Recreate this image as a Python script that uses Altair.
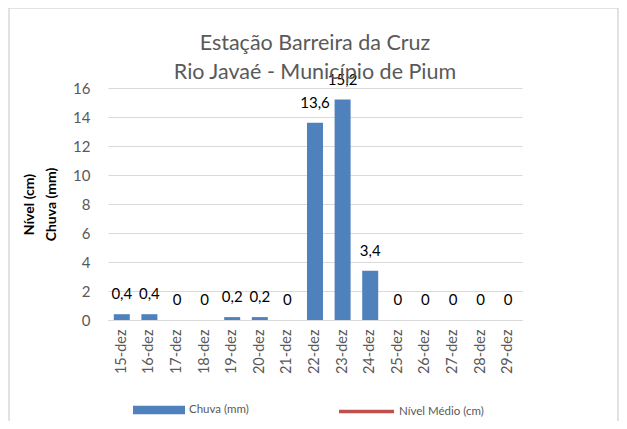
import altair as alt
import pandas as pd

datas = ["15-dez", "16-dez", "17-dez", "18-dez", "19-dez", "20-dez", "21-dez",
         "22-dez", "23-dez", "24-dez", "25-dez", "26-dez", "27-dez", "28-dez", "29-dez"]
chuva = [0.4, 0.4, 0, 0, 0.2, 0.2, 0, 13.6, 15.2, 3.4, 0, 0, 0, 0, 0]
nivel = [None] * len(datas)
y_ticks = [0, 2, 4, 6, 8, 10, 12, 14, 16]

def fmt(v):
    s = ("%g" % v)
    return s.replace(".", ",")

df = pd.DataFrame({
    "data": datas,
    "chuva": chuva,
    "rotulo": [fmt(v) for v in chuva],
    "serie": ["Chuva (mm)"] * len(datas),
})
df_n = pd.DataFrame({
    "data": datas,
    "nivel": nivel,
    "serie": ["Nível Médio (cm)"] * len(datas),
})

FONT = "Lato"
GRAY = "#595959"

x_axis = alt.Axis(labelAngle=270, labelAlign="right", labelBaseline="middle",
                  labelPadding=9, ticks=False, domainColor="#d9d9d9",
                  labelFontSize=14.5, labelColor=GRAY, labelFont=FONT)
x_scale = alt.Scale(paddingInner=0.42, paddingOuter=0.21)
y_axis = alt.Axis(values=y_ticks, tickCount=9, grid=True, gridColor="#d9d9d9",
                  domain=False, ticks=False, labelPadding=18, labelFontSize=15,
                  labelColor=GRAY, labelFont=FONT, labelOverlap=False,
                  titleFont=FONT, titleFontSize=14, titleFontWeight="bold",
                  titleColor="black", titlePadding=14, titleLineHeight=22)
y_scale = alt.Scale(domain=[0, 16], nice=False)
y_title = ["Nível (cm)", "Chuva (mm)"]

def xe():
    return alt.X("data:N", sort=datas, title=None, scale=x_scale, axis=x_axis)

bars = alt.Chart(df).mark_bar().encode(
    x=xe(),
    y=alt.Y("chuva:Q", title=y_title, scale=y_scale, axis=y_axis),
    color=alt.Color("serie:N", title=None,
                    scale=alt.Scale(domain=["Chuva (mm)"], range=["#4f81bd"]),
                    legend=alt.Legend(orient="none", legendX=25, legendY=296,
                                      symbolType="M-1,-0.16H1V0.16H-1Z",
                                      symbolSize=2704, symbolStrokeWidth=0,
                                      labelFont=FONT, labelFontSize=11.5,
                                      labelColor=GRAY, labelOffset=4, padding=0)),
)

labels = alt.Chart(df).mark_text(
    baseline="alphabetic", dy=-15, fontSize=15, font=FONT, color="black"
).encode(
    x=xe(),
    y=alt.Y("chuva:Q", title=y_title, scale=y_scale, axis=y_axis),
    text="rotulo:N",
)

line = alt.Chart(df_n).mark_line(strokeWidth=3.5).encode(
    x=xe(),
    y=alt.Y("nivel:Q", title=y_title, scale=y_scale, axis=y_axis),
    stroke=alt.Stroke("serie:N", title=None,
                      scale=alt.Scale(domain=["Nível Médio (cm)"], range=["#c0504d"]),
                      legend=alt.Legend(orient="none", legendX=229, legendY=294,
                                        symbolType="stroke", symbolSize=3025,
                                        symbolStrokeWidth=3.5,
                                        labelFont=FONT, labelFontSize=11.5,
                                        labelColor=GRAY, labelOffset=3, padding=0)),
)

frame = alt.Chart(alt.Data(values=[{"a": 1}])).mark_rect(
    fill="transparent", stroke="#d9d9d9", strokeWidth=1.5
).encode(x=alt.value(-99), x2=alt.value(510), y=alt.value(-80), y2=alt.value(345))

chart = alt.layer(frame, bars, labels, line).resolve_legend(
    color="independent", stroke="independent"
).properties(
    width=414, height=232,
    autosize=alt.AutoSizeParams(type="none"),
    padding={"left": 100, "top": 80, "right": 97, "bottom": 101},
    title=alt.TitleParams(
        ["Estação Barreira da Cruz", "Rio Javaé - Município de Pium"],
        font=FONT, fontSize=21.5, fontWeight="normal", color=GRAY,
        lineHeight=29, anchor="middle", offset=0, baseline="alphabetic", dy=93,
    ),
).configure_view(stroke=None)

chart.save("out.html", embed_options={"renderer": "svg", "actions": False})
